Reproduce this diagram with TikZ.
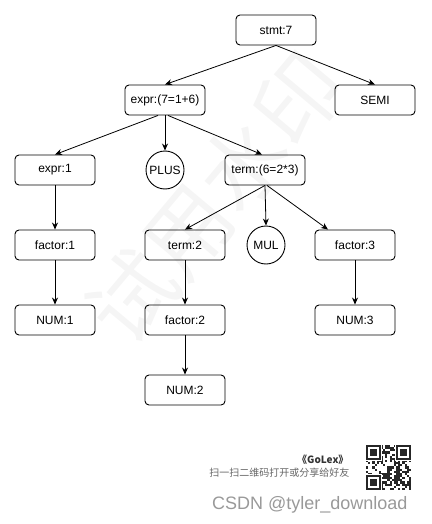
\documentclass[tikz,border=0pt]{standalone}
\usepackage{fontspec}
\usepackage{tikz}
\usepackage{xcolor}
\usetikzlibrary{arrows.meta}
\setmainfont{Liberation Sans}
\newfontfamily\cjk{Noto Sans CJK SC}

\begin{document}
\begin{tikzpicture}[x=1pt,y=-1pt,font=\fontsize{12}{14}\selectfont,
    tnode/.style={draw,rounded corners=4pt,line width=0.9pt,minimum width=80pt,minimum height=30pt,inner sep=0pt},
    tleaf/.style={draw,circle,line width=0.9pt,minimum size=38pt,inner sep=0pt},
    arr/.style={-{Stealth[length=7pt,width=6pt]},line width=0.8pt}]
  \useasboundingbox (0,0) rectangle (431,524);
  % watermark
  \node[rotate=50,text=black!4,font=\cjk\fontsize{86}{86}\selectfont] at (215,198) {试用水印};
  % tree
  \node[tnode] (stmt) at (276,30) {stmt:7};
  \node[tnode] (expra) at (165,100) {expr:(7=1+6)};
  \node[tnode] (semi) at (375,100) {SEMI};
  \node[tnode] (exprb) at (55,170) {expr:1};
  \node[tleaf] (plus) at (165,170) {PLUS};
  \node[tnode] (terma) at (265,170) {term:(6=2*3)};
  \node[tnode] (factora) at (55,245) {factor:1};
  \node[tnode] (termb) at (185,245) {term:2};
  \node[tleaf] (mul) at (266,245) {MUL};
  \node[tnode] (factorc) at (355,245) {factor:3};
  \node[tnode] (numa) at (55,320) {NUM:1};
  \node[tnode] (factorb) at (185,320) {factor:2};
  \node[tnode] (numc) at (355,320) {NUM:3};
  \node[tnode] (numb) at (185,390) {NUM:2};
  \foreach \a/\b in {stmt/expra,stmt/semi,expra/plus,terma/termb,terma/mul,
                     exprb/factora,factora/numa,termb/factorb,factorb/numb,factorc/numc}
    \draw[arr] (\a.south) -- (\b.north);
  \draw[arr] ([xshift=-7pt]expra.south) -- (exprb.north);
  \draw[arr] ([xshift=3pt]expra.south) -- ([xshift=-3pt]terma.north);
  \draw[arr] ([xshift=2pt]terma.south) -- ([xshift=-27pt]factorc.north);
  % footer
  \node[anchor=east,text=black!80,font=\cjk\bfseries\fontsize{10}{12}\selectfont] (golex) at (352,460) {《GoLex》};
  \node[anchor=east,text=black!60,font=\cjk\fontsize{10}{12}\selectfont] (share) at (353,473) {扫一扫二维码打开或分享给好友};
  \node[anchor=west,text=black!40,font=\fontsize{18}{20}\selectfont,inner sep=0pt] (csdn) at (212,505) {CSDN @tyler\_download};
  % qr code
  \pgfmathsetseed{17}
  \foreach \r in {0,...,20}{
    \foreach \c in {0,...,20}{
      \pgfmathparse{rnd<0.5 ? 1 : 0}
      \ifnum\pgfmathresult=1
        \fill[black!85] (366+\c*2.14,445+\r*2.14) rectangle ++(2.14,2.14);
      \fi
    }
  }
  \foreach \qx/\qy in {366/445,396/445,366/475}{
    \fill[white] (\qx-1,\qy-1) rectangle ++(17,17);
    \fill[black!85] (\qx,\qy) rectangle ++(15,15);
    \fill[white] (\qx+2.14,\qy+2.14) rectangle ++(10.7,10.7);
    \fill[black!85] (\qx+4.28,\qy+4.28) rectangle ++(6.4,6.4);
  }
\end{tikzpicture}
\end{document}
